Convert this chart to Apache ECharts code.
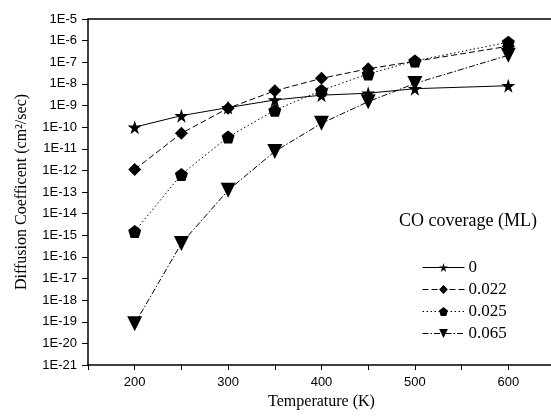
<!DOCTYPE html>
<html>
<head>
<meta charset="utf-8">
<script src="https://cdn.jsdelivr.net/npm/echarts@6/dist/echarts.min.js"></script>
<style>
  html, body { margin: 0; padding: 0; background: #fff; }
  #main { width: 551px; height: 416px; }
</style>
</head>
<body>
<div id="main"></div>
<script>
// temperatures (K)
const temps = [200, 250, 300, 350, 400, 450, 500, 600];
// diffusion coefficients (cm^2/sec)
const cov0 = [1.0e-10, 3.4e-10, 8.0e-10, 1.8e-9, 3.0e-9, 3.7e-9, 6.0e-9, 8.2e-9];
const cov022 = [1.1e-12, 5.2e-11, 7.5e-10, 4.8e-9, 1.8e-8, 5.0e-8, 1.1e-7, 5.5e-7];
const cov025 = [1.5e-15, 6.5e-13, 3.5e-11, 6.0e-10, 5.0e-9, 2.9e-8, 1.15e-7, 8.5e-7];
const cov065 = [8.0e-20, 4.2e-16, 1.2e-13, 7.5e-12, 1.5e-10, 1.5e-9, 1.05e-8, 2.1e-7];
const seriesNames = ['0', '0.022', '0.025', '0.065'];

// tick labels
const xLabels = [200, 300, 400, 500, 600];
const xTicks = [150, 200, 250, 300, 350, 400, 450, 500, 550, 600, 650];
const yExponents = [-21, -20, -19, -18, -17, -16, -15, -14, -13, -12, -11, -10, -9, -8, -7, -6, -5];
const yTickValues = yExponents.map((e) => Number('1e' + e));

const STAR = 'path://M50,0 L61,35 L98,35 L68,57 L79,91 L50,70 L21,91 L32,57 L2,35 L39,35 Z';
const PENTAGON = 'path://M50,0 L98,36 L80,92 L20,92 L2,36 Z';
const DOWN_TRI = 'path://M0,0 L100,0 L50,88 Z';

const pairs = (ys) => temps.map((t, i) => [t, ys[i]]);

const serif = '"Liberation Serif", "Times New Roman", serif';
const sans = '"Liberation Sans", Arial, sans-serif';

const makeSeries = (name, ys, symbol, size, dash) => ({
  name,
  type: 'line',
  data: pairs(ys),
  symbol,
  symbolSize: size,
  showSymbol: true,
  itemStyle: { color: '#000' },
  lineStyle: { color: '#000', width: 1, type: dash },
  animation: false,
});

const chart = echarts.init(document.getElementById('main'));
chart.setOption({
  backgroundColor: '#fff',
  animation: false,
  grid: { left: 88, top: 19, width: 467, height: 346, show: false, containLabel: false, outerBoundsMode: 'none' },
  title: {
    text: 'CO coverage (ML)',
    left: 394,
    top: 207,
    textStyle: { fontFamily: serif, fontSize: 18, fontWeight: 'normal', color: '#000' },
  },
  legend: {
    orient: 'vertical',
    left: 417,
    top: 254,
    itemWidth: 42,
    itemHeight: 11,
    itemGap: 5,
    data: seriesNames,
    lineStyle: { width: 1 },
    textStyle: { fontFamily: serif, fontSize: 17, color: '#000', padding: [0, 0, 0, -1] },
  },
  xAxis: [{
    type: 'value',
    min: 150,
    max: 650,
    interval: 50,
    name: 'Temperature (K)',
    nameLocation: 'middle',
    nameGap: 29,
    nameMoveOverlap: false,
    nameTextStyle: { fontFamily: serif, fontSize: 16, color: '#000' },
    axisLine: { show: true, lineStyle: { color: '#000', width: 1.5 } },
    axisTick: { show: true, length: 5, customValues: xTicks, lineStyle: { color: '#000' } },
    axisLabel: {
      color: '#000', fontFamily: sans, fontSize: 13, margin: 11,
      customValues: xLabels,
    },
    splitLine: { show: false },
  }, {
    type: 'value',
    position: 'top',
    min: 150,
    max: 650,
    axisLine: { show: true, lineStyle: { color: '#000', width: 1.5 } },
    axisTick: { show: false },
    axisLabel: { show: false },
    splitLine: { show: false },
  }],
  yAxis: {
    type: 'log',
    logBase: 10,
    min: 1e-21,
    max: 1e-5,
    interval: 1,
    name: 'Diffusion Coefficent (cm²/sec)',
    nameLocation: 'middle',
    nameGap: 58,
    nameMoveOverlap: false,
    nameTextStyle: { fontFamily: serif, fontSize: 16, color: '#000' },
    axisLine: { show: true, lineStyle: { color: '#000', width: 1.5 } },
    axisTick: { show: true, length: 6, customValues: yTickValues, lineStyle: { color: '#000' } },
    axisLabel: {
      color: '#000', fontFamily: sans, fontSize: 13, margin: 11,
      customValues: yTickValues,
      showMinLabel: true, showMaxLabel: true, hideOverlap: false,
      formatter: (v) => '1E' + Math.round(Math.log10(v)),
    },
    splitLine: { show: false },
  },
  series: [
    makeSeries(seriesNames[0], cov0, STAR, 14, 'solid'),
    makeSeries(seriesNames[1], cov022, 'diamond', 13, [6, 3]),
    makeSeries(seriesNames[2], cov025, PENTAGON, 13, [1.5, 2.5]),
    makeSeries(seriesNames[3], cov065, DOWN_TRI, 15, [6, 2, 1.5, 2]),
  ],
});
</script>
</body>
</html>
